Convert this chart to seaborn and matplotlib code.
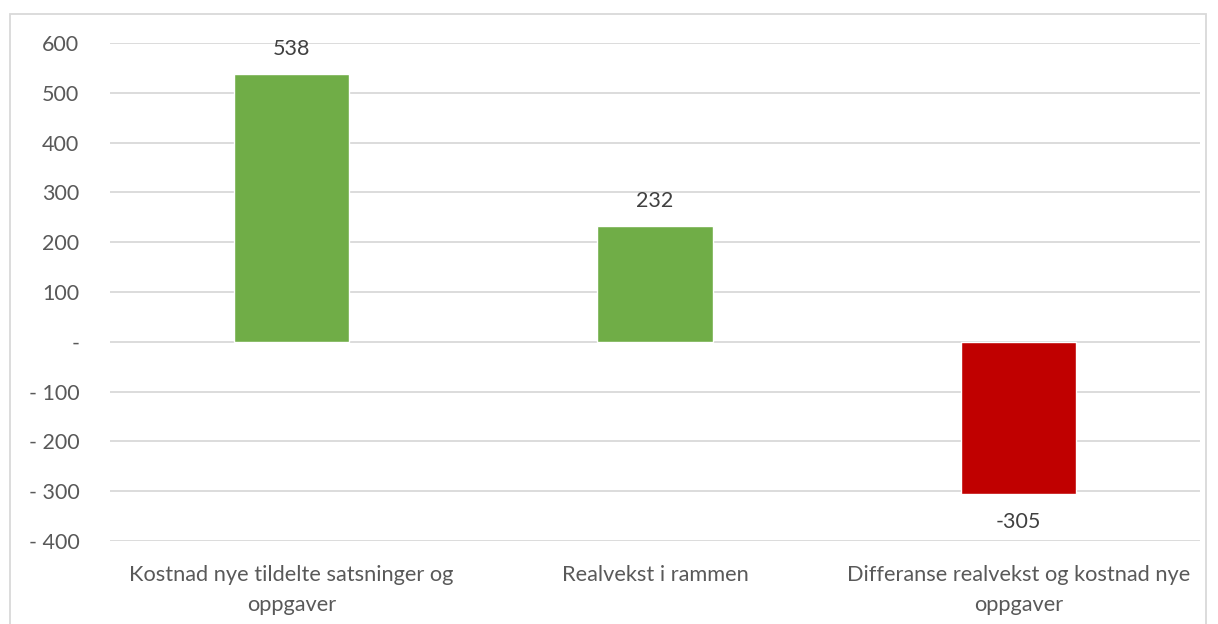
import matplotlib
matplotlib.use("Agg")
import matplotlib.pyplot as plt
import seaborn as sns
import pandas as pd
from matplotlib.patches import Rectangle

# Data
kategorier = ["Kostnad nye tildelte satsninger og\noppgaver",
              "Realvekst i rammen",
              "Differanse realvekst og kostnad nye\noppgaver"]
verdier = [538, 232, -305]
farger = ["#70AD47", "#70AD47", "#C00000"]
y_ticks = [600, 500, 400, 300, 200, 100, 0, -100, -200, -300, -400]

df = pd.DataFrame({"kategori": kategorier, "verdi": verdier})

sns.set_style("white")
plt.rcParams['font.family'] = ['Lato', 'DejaVu Sans']

fig = plt.figure(figsize=(12.18, 6.24), dpi=100)
ax = fig.add_axes([110 / 1218, 1 - 541 / 624, 1090 / 1218, 498 / 624])

sns.barplot(data=df, x="kategori", y="verdi", hue="kategori", palette=farger,
            legend=False, width=0.317, saturation=1, ax=ax, zorder=3)

ax.set_ylim(-400, 600)
ax.set_xlim(-0.5, 2.5)
ax.set_yticks(y_ticks)


def fmt(v):
    if v == 0:
        return "-"
    if v < 0:
        return f"- {abs(v)}"
    return f"{v}"


ax.set_yticklabels([fmt(v) for v in y_ticks], color="#595959", fontsize=15.5)
ax.tick_params(axis="y", length=0, pad=22)
ax.tick_params(axis="x", length=0, pad=17, labelsize=15.7, labelcolor="#595959")
for lbl in ax.get_xticklabels():
    lbl.set_horizontalalignment("center")
    lbl.set_linespacing(1.62)

ax.grid(axis="y", color="#D9D9D9", linewidth=1.3, zorder=0)
ax.set_axisbelow(True)
for s in ax.spines.values():
    s.set_visible(False)
ax.set_xlabel("")
ax.set_ylabel("")

# data labels
for i, v in enumerate(verdier):
    if v >= 0:
        ax.annotate(f"{v}", (i, v), xytext=(0, 11), textcoords="offset points",
                    ha="center", va="bottom", fontsize=15.5, color="#404040")
    else:
        ax.annotate(f"{v}", (i, v), xytext=(0, -13), textcoords="offset points",
                    ha="center", va="top", fontsize=15.5, color="#404040")

# chart border
fig.patches.append(Rectangle((10 / 1218, -0.05), 1196 / 1218, 1.05 - 14 / 624,
                             transform=fig.transFigure, fill=False,
                             edgecolor="#D9D9D9", linewidth=1.3))

fig.savefig("out.png", dpi=100)
